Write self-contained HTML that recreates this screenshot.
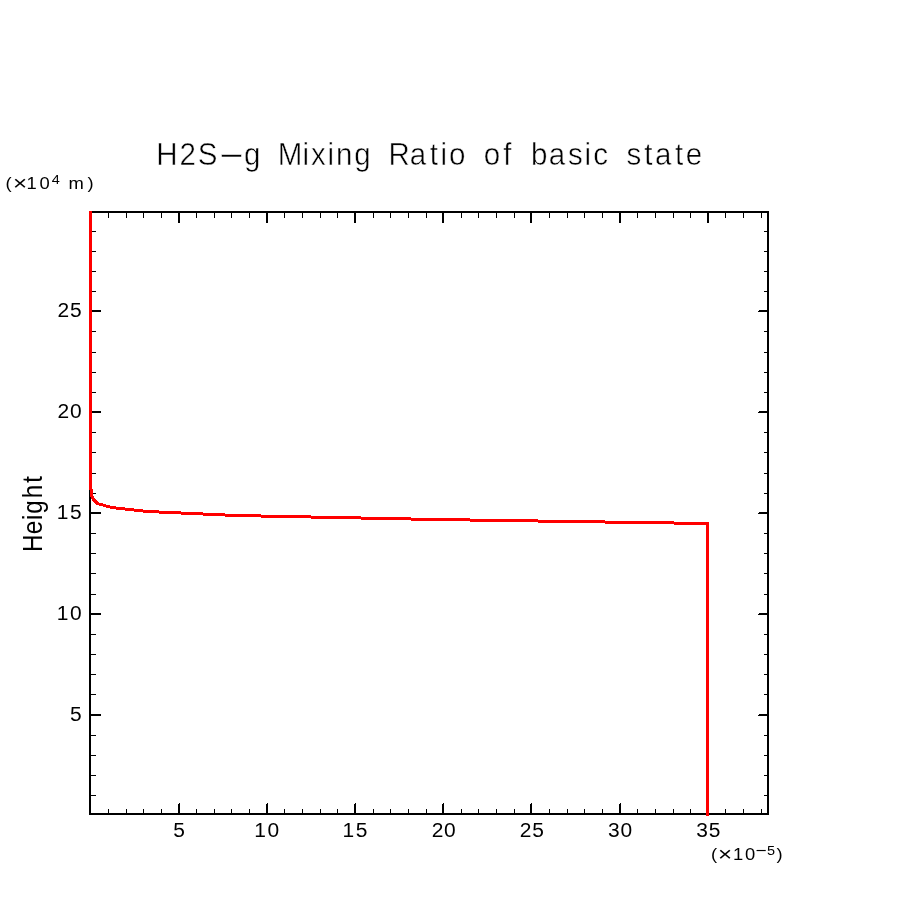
<!DOCTYPE html>
<html lang="en"><head><meta charset="utf-8"><title>H2S-g Mixing Ratio of basic state</title>
<style>
html,body{margin:0;padding:0;background:#fff;}
body{width:904px;height:904px;overflow:hidden;}
svg{display:block;}
text{font-family:"Liberation Sans",sans-serif;fill:#000;}
</style></head><body>
<svg width="904" height="904" viewBox="0 0 904 904">
<rect width="904" height="904" fill="#fff"/>

<g shape-rendering="crispEdges" fill="#000">
<rect x="89" y="211" width="680" height="2"/>
<rect x="89" y="813" width="680" height="2"/>
<rect x="89" y="211" width="2" height="604"/>
<rect x="767" y="211" width="2" height="604"/>
<rect x="108" y="809" width="1" height="4"/>
<rect x="108" y="213" width="1" height="5"/>
<rect x="126" y="809" width="1" height="4"/>
<rect x="126" y="213" width="1" height="5"/>
<rect x="143" y="809" width="1" height="4"/>
<rect x="143" y="213" width="1" height="5"/>
<rect x="161" y="809" width="1" height="4"/>
<rect x="161" y="213" width="1" height="5"/>
<rect x="178" y="804" width="1" height="9"/><rect x="179" y="803" width="1" height="10"/>
<rect x="178" y="213" width="2" height="10"/>
<rect x="196" y="809" width="1" height="4"/>
<rect x="196" y="213" width="1" height="5"/>
<rect x="214" y="809" width="1" height="4"/>
<rect x="214" y="213" width="1" height="5"/>
<rect x="231" y="809" width="1" height="4"/>
<rect x="231" y="213" width="1" height="5"/>
<rect x="249" y="809" width="1" height="4"/>
<rect x="249" y="213" width="1" height="5"/>
<rect x="266" y="804" width="1" height="9"/><rect x="267" y="803" width="1" height="10"/>
<rect x="266" y="213" width="2" height="10"/>
<rect x="284" y="809" width="1" height="4"/>
<rect x="284" y="213" width="1" height="5"/>
<rect x="302" y="809" width="1" height="4"/>
<rect x="302" y="213" width="1" height="5"/>
<rect x="320" y="809" width="1" height="4"/>
<rect x="320" y="213" width="1" height="5"/>
<rect x="337" y="809" width="1" height="4"/>
<rect x="337" y="213" width="1" height="5"/>
<rect x="354" y="804" width="1" height="9"/><rect x="355" y="803" width="1" height="10"/>
<rect x="354" y="213" width="2" height="10"/>
<rect x="373" y="809" width="1" height="4"/>
<rect x="373" y="213" width="1" height="5"/>
<rect x="390" y="809" width="1" height="4"/>
<rect x="390" y="213" width="1" height="5"/>
<rect x="408" y="809" width="1" height="4"/>
<rect x="408" y="213" width="1" height="5"/>
<rect x="426" y="809" width="1" height="4"/>
<rect x="426" y="213" width="1" height="5"/>
<rect x="442" y="804" width="1" height="9"/><rect x="443" y="803" width="1" height="10"/>
<rect x="442" y="213" width="2" height="10"/>
<rect x="461" y="809" width="1" height="4"/>
<rect x="461" y="213" width="1" height="5"/>
<rect x="478" y="809" width="1" height="4"/>
<rect x="478" y="213" width="1" height="5"/>
<rect x="496" y="809" width="1" height="4"/>
<rect x="496" y="213" width="1" height="5"/>
<rect x="514" y="809" width="1" height="4"/>
<rect x="514" y="213" width="1" height="5"/>
<rect x="530" y="804" width="1" height="9"/><rect x="531" y="803" width="1" height="10"/>
<rect x="530" y="213" width="2" height="10"/>
<rect x="549" y="809" width="1" height="4"/>
<rect x="549" y="213" width="1" height="5"/>
<rect x="567" y="809" width="1" height="4"/>
<rect x="567" y="213" width="1" height="5"/>
<rect x="584" y="809" width="1" height="4"/>
<rect x="584" y="213" width="1" height="5"/>
<rect x="602" y="809" width="1" height="4"/>
<rect x="602" y="213" width="1" height="5"/>
<rect x="619" y="804" width="1" height="9"/><rect x="620" y="803" width="1" height="10"/>
<rect x="619" y="213" width="2" height="10"/>
<rect x="637" y="809" width="1" height="4"/>
<rect x="637" y="213" width="1" height="5"/>
<rect x="655" y="809" width="1" height="4"/>
<rect x="655" y="213" width="1" height="5"/>
<rect x="673" y="809" width="1" height="4"/>
<rect x="673" y="213" width="1" height="5"/>
<rect x="690" y="809" width="1" height="4"/>
<rect x="690" y="213" width="1" height="5"/>
<rect x="707" y="804" width="1" height="9"/><rect x="708" y="803" width="1" height="10"/>
<rect x="707" y="213" width="2" height="10"/>
<rect x="725" y="809" width="1" height="4"/>
<rect x="725" y="213" width="1" height="5"/>
<rect x="743" y="809" width="1" height="4"/>
<rect x="743" y="213" width="1" height="5"/>
<rect x="761" y="809" width="1" height="4"/>
<rect x="761" y="213" width="1" height="5"/>
<rect x="91" y="795" width="5" height="1"/>
<rect x="764" y="795" width="3" height="1"/>
<rect x="91" y="775" width="5" height="1"/>
<rect x="764" y="775" width="3" height="1"/>
<rect x="91" y="755" width="5" height="1"/>
<rect x="764" y="755" width="3" height="1"/>
<rect x="91" y="735" width="5" height="1"/>
<rect x="764" y="735" width="3" height="1"/>
<rect x="91" y="714" width="10" height="2"/>
<rect x="759" y="714" width="8" height="1"/><rect x="758" y="715" width="9" height="1"/>
<rect x="91" y="694" width="5" height="1"/>
<rect x="764" y="694" width="3" height="1"/>
<rect x="91" y="674" width="5" height="1"/>
<rect x="764" y="674" width="3" height="1"/>
<rect x="91" y="654" width="5" height="1"/>
<rect x="764" y="654" width="3" height="1"/>
<rect x="91" y="634" width="5" height="1"/>
<rect x="764" y="634" width="3" height="1"/>
<rect x="91" y="613" width="10" height="2"/>
<rect x="759" y="613" width="8" height="1"/><rect x="758" y="614" width="9" height="1"/>
<rect x="91" y="594" width="5" height="1"/>
<rect x="764" y="594" width="3" height="1"/>
<rect x="91" y="573" width="5" height="1"/>
<rect x="764" y="573" width="3" height="1"/>
<rect x="91" y="553" width="5" height="1"/>
<rect x="764" y="553" width="3" height="1"/>
<rect x="91" y="533" width="5" height="1"/>
<rect x="764" y="533" width="3" height="1"/>
<rect x="91" y="512" width="10" height="2"/>
<rect x="759" y="512" width="8" height="1"/><rect x="758" y="513" width="9" height="1"/>
<rect x="91" y="493" width="5" height="1"/>
<rect x="764" y="493" width="3" height="1"/>
<rect x="91" y="473" width="5" height="1"/>
<rect x="764" y="473" width="3" height="1"/>
<rect x="91" y="452" width="5" height="1"/>
<rect x="764" y="452" width="3" height="1"/>
<rect x="91" y="432" width="5" height="1"/>
<rect x="764" y="432" width="3" height="1"/>
<rect x="91" y="411" width="10" height="2"/>
<rect x="759" y="411" width="8" height="1"/><rect x="758" y="412" width="9" height="1"/>
<rect x="91" y="392" width="5" height="1"/>
<rect x="764" y="392" width="3" height="1"/>
<rect x="91" y="372" width="5" height="1"/>
<rect x="764" y="372" width="3" height="1"/>
<rect x="91" y="352" width="5" height="1"/>
<rect x="764" y="352" width="3" height="1"/>
<rect x="91" y="331" width="5" height="1"/>
<rect x="764" y="331" width="3" height="1"/>
<rect x="91" y="310" width="10" height="2"/>
<rect x="759" y="310" width="8" height="1"/><rect x="758" y="311" width="9" height="1"/>
<rect x="91" y="291" width="5" height="1"/>
<rect x="764" y="291" width="3" height="1"/>
<rect x="91" y="271" width="5" height="1"/>
<rect x="764" y="271" width="3" height="1"/>
<rect x="91" y="251" width="5" height="1"/>
<rect x="764" y="251" width="3" height="1"/>
<rect x="91" y="231" width="5" height="1"/>
<rect x="764" y="231" width="3" height="1"/>
</g>
<g shape-rendering="crispEdges" fill="#f00">
<rect x="89" y="211" width="3" height="279"/>
<rect x="90" y="489" width="3" height="8"/>
<rect x="91" y="497" width="3" height="1"/>
<rect x="91" y="498" width="4" height="1"/>
<rect x="92" y="499" width="4" height="1"/>
<rect x="92" y="500" width="5" height="1"/>
<rect x="93" y="501" width="5" height="1"/>
<rect x="94" y="502" width="5" height="1"/>
<rect x="95" y="503" width="8" height="1"/>
<rect x="96" y="504" width="10" height="1"/>
<rect x="99" y="505" width="11" height="1"/>
<rect x="90" y="496" width="4" height="1"/>
<rect x="103" y="504" width="3" height="3"/>
<rect x="106" y="505" width="4" height="3"/>
<rect x="110" y="506" width="6" height="3"/>
<rect x="116" y="507" width="9" height="3"/>
<rect x="125" y="508" width="9" height="3"/>
<rect x="134" y="509" width="9" height="3"/>
<rect x="143" y="510" width="16" height="3"/>
<rect x="159" y="511" width="22" height="3"/>
<rect x="181" y="512" width="22" height="3"/>
<rect x="203" y="513" width="22" height="3"/>
<rect x="225" y="514" width="36" height="3"/>
<rect x="261" y="515" width="50" height="3"/>
<rect x="311" y="516" width="50" height="3"/>
<rect x="361" y="517" width="50" height="3"/>
<rect x="411" y="518" width="59" height="3"/>
<rect x="470" y="519" width="68" height="3"/>
<rect x="538" y="520" width="67" height="3"/>
<rect x="605" y="521" width="69" height="3"/>
<rect x="674" y="522" width="35" height="3"/>
<rect x="706" y="522" width="3" height="294"/>
</g>
<g transform="scale(0.94,1)"><text x="166.24 191.02 210.40 231.08 259.67 278.96 295.45 321.94 330.77 348.34 357.35 376.89 396.18 413.36 436.02 457.29 468.73 477.74 496.51 514.71 535.42 546.14 564.87 583.87 604.29 621.86 631.22 648.58 666.60 685.40 696.87 718.14 729.61" y="165" font-size="31.4" stroke="#fff" stroke-width="0.5" xml:space="preserve">H2S<tspan dy="-1.3" textLength="30.32" lengthAdjust="spacingAndGlyphs">-</tspan><tspan dy="1.3">g Mixing Ratio of basic state</tspan></text></g>
<g transform="scale(1.07,1)"><text x="161.85" y="837" font-size="19.6" xml:space="preserve">5</text></g>
<g transform="scale(1.07,1)"><text x="237.65 250.08" y="837" font-size="19.6" xml:space="preserve">10</text></g>
<g transform="scale(1.07,1)"><text x="320.09 332.53" y="837" font-size="19.6" xml:space="preserve">15</text></g>
<g transform="scale(1.07,1)"><text x="403.40 414.97" y="837" font-size="19.6" xml:space="preserve">20</text></g>
<g transform="scale(1.07,1)"><text x="485.85 497.42" y="837" font-size="19.6" xml:space="preserve">25</text></g>
<g transform="scale(1.07,1)"><text x="568.29 579.86" y="837" font-size="19.6" xml:space="preserve">30</text></g>
<g transform="scale(1.07,1)"><text x="650.73 662.30" y="837" font-size="19.6" xml:space="preserve">35</text></g>
<g transform="scale(1.07,1)"><text x="65.40" y="721" font-size="19.6" xml:space="preserve">5</text></g>
<g transform="scale(1.07,1)"><text x="52.96 65.40" y="620" font-size="19.6" xml:space="preserve">10</text></g>
<g transform="scale(1.07,1)"><text x="52.96 65.40" y="519" font-size="19.6" xml:space="preserve">15</text></g>
<g transform="scale(1.07,1)"><text x="53.83 65.40" y="418" font-size="19.6" xml:space="preserve">20</text></g>
<g transform="scale(1.07,1)"><text x="53.83 65.40" y="317" font-size="19.6" xml:space="preserve">25</text></g>
<g transform="translate(42,552) rotate(-90)"><g transform="scale(0.88,1)"><text x="-0.05 20.18 36.45 43.53 61.03 78.77" y="0" font-size="27.5" xml:space="preserve">Height</text></g></g>
<g transform="scale(1.15,1)"><text x="4.73 11.26 22.94 34.25 45.02 53.91 59.60 76.03" y="189" font-size="16" xml:space="preserve">(<tspan dy="1.5" font-size="21">×</tspan><tspan dy="-1.5">1</tspan>0<tspan dy="-5" font-size="12.6">4</tspan><tspan dy="5"> </tspan>m)</text></g>
<g transform="scale(1.15,1)"><text x="618.21 624.30 637.29 647.73 656.92 666.93 675.16" y="860" font-size="16" xml:space="preserve">(<tspan dy="1.5" font-size="21">×</tspan><tspan dy="-1.5">1</tspan>0<tspan dy="-4" font-size="16.5">−</tspan><tspan dy="-1" font-size="12.6">5</tspan><tspan dy="5">)</tspan></text></g>
</svg></body></html>
